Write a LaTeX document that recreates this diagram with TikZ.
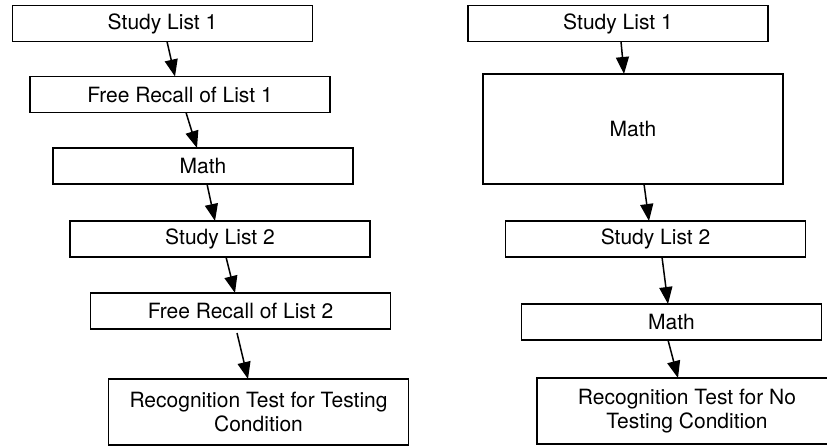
\documentclass[tikz,border=0pt]{standalone}
\usepackage{fontspec}
\setmainfont{TeX Gyre Heros}
\usetikzlibrary{arrows.meta,positioning}

\begin{document}
\begin{tikzpicture}[x=1pt, y=1pt,
	phase/.style={draw=black, line width=1.5pt, rectangle, minimum width=300pt, minimum height=36pt, inner sep=0pt, outer sep=0pt, align=center, font=\fontsize{21}{24}\selectfont},
	flow/.style={-{Triangle[length=17pt, width=13pt]}, line width=1.5pt}]
	\useasboundingbox (0,0) rectangle (827,-446);
	\clip (0,0) rectangle (827,-446);

	% testing condition
	\node[phase] (ls1) at (162.5,-23.5) {Study List 1};
	\node[phase, below=35pt of ls1, xshift=17.5pt] (lf1) {Free Recall of List 1};
	\node[phase, below=35.5pt of lf1, xshift=23pt] (lm) {Math};
	\node[phase, below=37pt of lm, xshift=17pt] (ls2) {Study List 2};
	\node[phase, below=36pt of ls2, xshift=20.5pt] (lf2) {Free Recall of List 2};
	\node[phase, minimum height=66pt, below=50pt of lf2, xshift=18pt] (lr) {Recognition Test for Testing\\Condition};

	% no testing condition
	\node[phase] (rs1) at (618,-23.5) {Study List 1};
	\node[phase, minimum height=110pt, below=32.5pt of rs1, xshift=15pt] (rm1) {Math};
	\node[phase, below=37pt of rm1, xshift=22.5pt] (rs2) {Study List 2};
	\node[phase, below=47pt of rs2, xshift=16pt] (rm2) {Math};
	\node[phase, minimum height=66pt, below=38pt of rm2, xshift=15.5pt] (rr) {Recognition Test for No\\Testing Condition};

	\draw[flow] ([xshift=4.5pt]ls1.south) -- ([xshift=-5pt]lf1.north);
	\draw[flow] ([xshift=6pt]lf1.south) -- ([xshift=-6pt]lm.north);
	\draw[flow] ([xshift=4pt]lm.south) -- ([xshift=-5pt]ls2.north);
	\draw[flow] ([xshift=6pt]ls2.south) -- ([xshift=-5.5pt]lf2.north);
	\draw[flow] ([xshift=-3.5pt, yshift=-4pt]lf2.south) -- ([xshift=-10.5pt]lr.north);

	\draw[flow] ([xshift=3pt]rs1.south) -- ([xshift=-9pt]rm1.north);
	\draw[flow] ([xshift=11pt]rm1.south) -- ([xshift=-6.5pt]rs2.north);
	\draw[flow] ([xshift=6.5pt]rs2.south) -- ([xshift=-3.5pt]rm2.north);
	\draw[flow] ([xshift=-3.5pt]rm2.south) -- ([xshift=-9pt]rr.north);
\end{tikzpicture}
\end{document}
